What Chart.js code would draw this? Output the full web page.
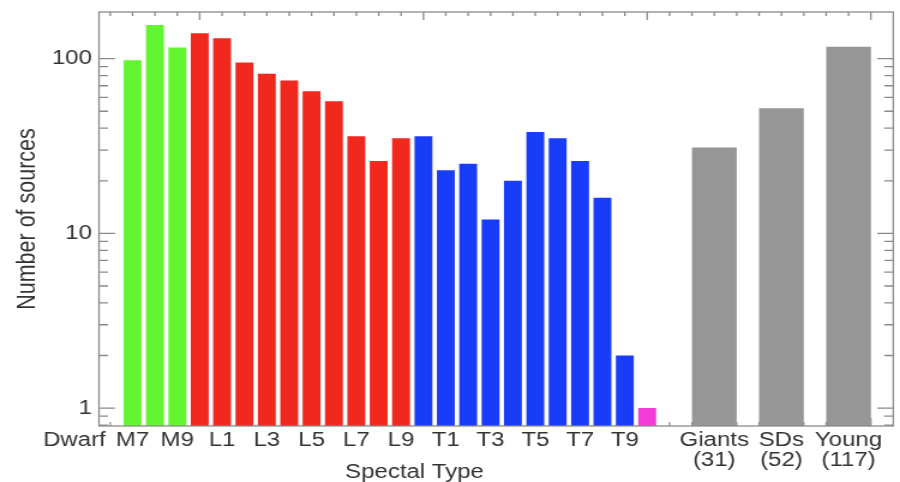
<!DOCTYPE html>
<html>
<head>
<meta charset="utf-8">
<script src="https://cdn.jsdelivr.net/npm/chart.js@4.4.1/dist/chart.umd.min.js"></script>
<style>
  html, body { margin: 0; padding: 0; background: #fff; overflow: hidden; }
  /* the plot is laid out 750px wide and stretched to the 900px page */
  #wrap { width: 750px; height: 482px; transform: scaleX(1.2); transform-origin: 0 0; }
</style>
</head>
<body>
<div id="wrap"><canvas id="chart"></canvas></div>
<script>
// Dwarf spectral types, one bar per subtype
const dwarfTypes = ["M7", "M8", "M9",
  "L0", "L1", "L2", "L3", "L4", "L5", "L6", "L7", "L8", "L9",
  "T0", "T1", "T2", "T3", "T4", "T5", "T6", "T7", "T8", "T9",
  "Y0"];
const dwarfCounts = [98, 156, 116,
  140, 131, 95, 82, 75, 65, 57, 36, 26, 35,
  36, 23, 25, 12, 20, 38, 35, 26, 16, 2,
  1];

// Other populations
const groupNames = ["Giants", "SDs", "Young"];
const groupCounts = [31, 52, 117];

// Axis labels
const yTickValues = [1, 10, 100];
const dwarfAxisLabel = "Dwarf";
const xTitle = "Spectal Type";
const yTitle = "Number of sources";

const classColors = { M: "#64f532", L: "#f0281e", T: "#193cf8", Y: "#f23dd6" };
const groupColor = "#969696";
const axisColor = "#8a8a8a";
const textColor = "#333333";
const fontFamily = '"Liberation Sans", Arial, Helvetica, sans-serif';

// slot layout on the x axis: dwarfs at 0..23, groups after a gap, 3 slots apart
const groupStart = dwarfTypes.length + 2;
const groupStep = 3;

const dwarfPoints = dwarfTypes.map((t, i) => ({ x: i, y: dwarfCounts[i] }));
const groupPoints = groupNames.map((g, i) => ({ x: groupStart + i * groupStep, y: groupCounts[i] }));

// bottom labels: every other subtype and the groups with their totals
const xLabels = new Map();
dwarfTypes.forEach((t, i) => { if (i % 2 === 0 && t[0] !== "Y") xLabels.set(i, t); });
groupNames.forEach((g, i) => xLabels.set(groupStart + i * groupStep, [g, "(" + groupCounts[i] + ")"]));

// box with IDL style tick marks on all four sides
const axisFrame = {
  id: "axisFrame",
  beforeDatasetsDraw(chart) {
    const { ctx, chartArea: a, scales: { x } } = chart;
    ctx.save();
    ctx.strokeStyle = axisColor;
    ctx.lineWidth = 1.2;
    ctx.beginPath();
    for (let s = Math.ceil(x.min); s < x.max; s++) {
      const px = x.getPixelForValue(s);
      const len = (s - 3) % 10 === 0 ? 8 : 4;
      ctx.moveTo(px, a.bottom);
      ctx.lineTo(px, a.bottom - len);
    }
    ctx.stroke();
    ctx.restore();
  },
  afterDatasetsDraw(chart) {
    const { ctx, chartArea: a, scales: { x, y } } = chart;
    ctx.save();
    ctx.strokeStyle = axisColor;
    ctx.lineWidth = 1.3;
    ctx.strokeRect(a.left, a.top, a.right - a.left, a.bottom - a.top);
    ctx.beginPath();
    for (let s = Math.ceil(x.min); s < x.max; s++) {
      const px = x.getPixelForValue(s);
      const len = (s - 3) % 10 === 0 ? 8 : 4;
      ctx.moveTo(px, a.top);
      ctx.lineTo(px, a.top + len);
    }
    [0.1, 1, 10, 100].forEach(d => {
      for (let m = 1; m <= 9; m++) {
        const v = m * d;
        if (v < y.min || v > y.max) continue;
        const py = y.getPixelForValue(v);
        const len = m === 1 ? 13.3 : 7.5;
        ctx.moveTo(a.left, py);
        ctx.lineTo(a.left + len, py);
        ctx.moveTo(a.right, py);
        ctx.lineTo(a.right - len, py);
      }
    });
    ctx.stroke();
    ctx.restore();
  },
  afterDraw(chart) {
    const { ctx, chartArea: a, scales: { x } } = chart;
    ctx.save();
    ctx.fillStyle = textColor;
    ctx.font = "20px " + fontFamily;
    ctx.textAlign = "center";
    ctx.textBaseline = "middle";
    // "Dwarf" sits in line with the tick labels, left of the box
    ctx.fillText(dwarfAxisLabel, x.getPixelForValue(-2.6), a.bottom + 14);
    ctx.textBaseline = "alphabetic";
    ctx.fillText(xTitle, x.getPixelForValue(12.6), 478);
    ctx.restore();
  }
};

Chart.defaults.font.family = fontFamily;
Chart.defaults.color = textColor;

new Chart(document.getElementById("chart"), {
  type: "bar",
  data: {
    datasets: [
      {
        label: "Dwarfs",
        data: dwarfPoints,
        backgroundColor: dwarfTypes.map(t => classColors[t[0]]),
        categoryPercentage: 1,
        barPercentage: 0.8,
        grouped: false
      },
      {
        label: "Groups",
        data: groupPoints,
        backgroundColor: groupColor,
        categoryPercentage: 1,
        barPercentage: 2.0,
        grouped: false
      }
    ]
  },
  options: {
    responsive: true,
    maintainAspectRatio: false,
    animation: false,
    devicePixelRatio: 1,
    layout: { padding: { top: 12, right: 5.6, bottom: 0, left: 0 } },
    plugins: {
      legend: { display: false },
      tooltip: { enabled: false }
    },
    scales: {
      x: {
        type: "linear",
        min: -1.5,
        max: 34,
        offset: false,
        grid: { display: false, drawTicks: false, offset: false },
        border: { display: false },
        afterBuildTicks: scale => {
          scale.ticks = [...xLabels.keys()].map(v => ({ value: v }));
        },
        ticks: {
          autoSkip: false,
          maxRotation: 0,
          minRotation: 0,
          padding: 4,
          font: { size: 20, lineHeight: 1 },
          callback: v => xLabels.get(v)
        },
        afterFit: scale => {
          scale.height = 56;
          scale.paddingLeft = 0;
          scale.paddingRight = 0;
        }
      },
      y: {
        type: "logarithmic",
        min: 0.79,
        max: 185,
        grid: { display: false, drawTicks: false },
        border: { display: false },
        afterBuildTicks: scale => {
          scale.ticks = yTickValues.map(v => ({ value: v }));
        },
        ticks: {
          padding: 6,
          font: { size: 20, lineHeight: 1 },
          callback: v => String(v)
        },
        title: {
          display: true,
          text: yTitle,
          font: { size: 21.5, lineHeight: 1 },
          padding: { top: 12, bottom: 0 }
        },
        afterFit: scale => {
          scale.width = 82.5;
          scale.paddingTop = 0;
          scale.paddingBottom = 0;
        }
      }
    }
  },
  plugins: [axisFrame]
});
</script>
</body>
</html>
